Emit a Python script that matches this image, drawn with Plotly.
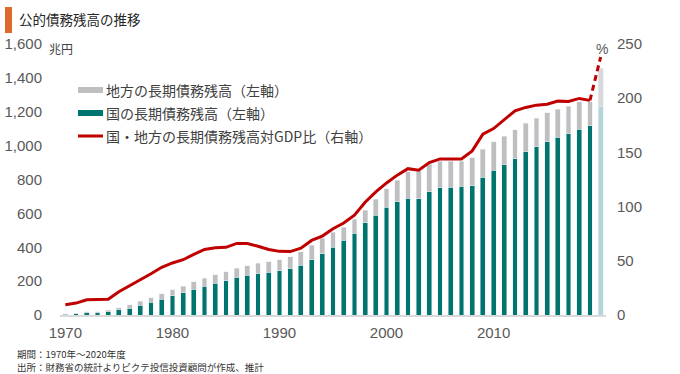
import plotly.graph_objects as go

years = list(range(1970, 2021))
national = [4, 6, 12, 14, 18, 31, 41, 57, 75, 94,
            114, 132, 152, 171, 187, 203, 222, 234, 244, 252,
            262, 274, 295, 326, 362, 401, 442, 484, 545, 590,
            637, 669, 690, 686, 727, 750, 755, 759, 763, 814,
            855, 887, 924, 964, 993, 1024, 1050, 1070, 1097, 1116,
            1231]
local = [4, 4, 6, 6, 10, 12, 20, 24, 27, 32,
         35, 39, 45, 45, 51, 53, 53, 57, 61, 63,
         63, 69, 77, 87, 90, 89, 76, 80, 74, 92,
         108, 126, 156, 164, 162, 157, 153, 149, 165, 165,
         167, 167, 169, 167, 169, 169, 165, 163, 162, 142,
         226]
gdp_ratio = [9.5, 11, 14, 14.6, 14.6, 21.4, 26.6, 32.5, 38, 44,
             48, 51, 56, 60.5, 62, 62.4, 66, 66, 63.4, 60.5,
             58.7, 58.5, 61.7, 68.8, 72.8, 79.6, 84.8, 92, 104, 113.5,
             121.8, 129, 135, 133.6, 140.7, 144, 144, 144, 151.4, 166.8,
             172, 180.4, 188.4, 191.5, 193.6, 194.5, 197.3, 197, 199.8, 198,
             238]
estimate_year = 2020
x_ticks = [1970, 1980, 1990, 2000, 2010]
left_ticks = [0, 200, 400, 600, 800, 1000, 1200, 1400, 1600]
right_ticks = [0, 50, 100, 150, 200, 250]

title = "公的債務残高の推移"
name_local = "地方の長期債務残高（左軸）"
name_nat = "国の長期債務残高（左軸）"
name_ratio = "国・地方の長期債務残高対GDP比（右軸）"
note1 = "期間：1970年～2020年度"
note2 = "出所：財務省の統計よりピクテ投信投資顧問が作成、推計"

TEAL, TEAL_L = "#00746f", "#b5d6d8"
GRAY, GRAY_L = "#bfbfbf", "#d9d9d9"
RED = "#c00000"
JP = "Noto Sans CJK JP"
NUM = "Liberation Sans"

W, H = 680, 374
L, R, T, B = 60, 606, 44, 315


def px(x):
    return (x - L) / (R - L)


def py(y):
    return (B - y) / (B - T)


nat_colors = [TEAL_L if y == estimate_year else TEAL for y in years]
loc_colors = [GRAY_L if y == estimate_year else GRAY for y in years]

fig = go.Figure()
fig.add_trace(go.Bar(x=years, y=national, name=name_nat, marker_color=nat_colors,
                     width=0.45, showlegend=False))
fig.add_trace(go.Bar(x=years, y=local, name=name_local, marker_color=loc_colors,
                     width=0.45, showlegend=False))
fig.add_trace(go.Scatter(x=years[:-1], y=gdp_ratio[:-1], name=name_ratio, mode="lines",
                         line=dict(color=RED, width=3), yaxis="y2", showlegend=False))
fig.add_trace(go.Scatter(x=years[-2:], y=gdp_ratio[-2:], name=name_ratio + "（推計）", mode="lines",
                         line=dict(color=RED, width=3, dash="6px,4px"), yaxis="y2", showlegend=False))

fig.update_layout(
    width=W, height=H,
    margin=dict(l=L, r=W - R, t=T, b=H - B, autoexpand=False),
    barmode="stack", bargap=0.5,
    plot_bgcolor="white", paper_bgcolor="white",
    font=dict(family=NUM, size=14, color="#595959"),
    xaxis=dict(range=[1969.5, 2020.5], tickvals=x_ticks, showgrid=False, zeroline=False,
               showline=True, linecolor="#d9d9d9", linewidth=2, ticks="", automargin=False,
               tickfont=dict(family=NUM, size=15, color="#595959"), ticklabelstandoff=3),
    yaxis=dict(range=[0, 1600], tickvals=left_ticks, tickformat=",d", showgrid=False,
               zeroline=False, ticks="", automargin=False,
               tickfont=dict(family=NUM, size=15, color="#595959"), ticklabelstandoff=17),
    yaxis2=dict(range=[0, 250], tickvals=right_ticks, overlaying="y", side="right",
                showgrid=False, zeroline=False, ticks="", automargin=False,
                tickfont=dict(family=NUM, size=15, color="#595959"), ticklabelstandoff=10),
)

shapes = []
annotations = []
# title marker
shapes.append(dict(type="rect", xref="paper", yref="paper", x0=px(5), x1=px(12), y0=py(33), y1=py(7),
                   fillcolor="#df6a2e", line=dict(width=0)))
annotations.append(dict(text=title, xref="paper", yref="paper", x=px(17), y=py(19), xanchor="left",
                        yanchor="middle", showarrow=False, font=dict(family=JP, size=13.5, color="#262626")))
# unit labels
annotations.append(dict(text="兆円", xref="paper", yref="paper", x=px(47), y=py(48), xanchor="left",
                        yanchor="middle", showarrow=False, font=dict(family=JP, size=12, color="#404040")))
annotations.append(dict(text="%", xref="paper", yref="paper", x=px(602), y=py(49), xanchor="center",
                        yanchor="middle", showarrow=False, font=dict(family=NUM, size=14, color="#595959")))
# custom legend
legend_items = [(name_local, GRAY, 6, 90), (name_nat, TEAL, 6, 113), (name_ratio, RED, 3, 136)]
for text, col, thick, yc in legend_items:
    shapes.append(dict(type="rect", xref="paper", yref="paper", x0=px(78), x1=px(103),
                       y0=py(yc + thick / 2), y1=py(yc - thick / 2), fillcolor=col, line=dict(width=0)))
    annotations.append(dict(text=text, xref="paper", yref="paper", x=px(104), y=py(yc), xanchor="left",
                            yanchor="middle", showarrow=False,
                            font=dict(family=JP, size=14, color="#404040")))
# notes
for text, yc in [(note1, 354), (note2, 367)]:
    annotations.append(dict(text=text, xref="paper", yref="paper", x=px(15), y=py(yc), xanchor="left",
                            yanchor="middle", showarrow=False, font=dict(family=JP, size=9.5, color="#333333")))

fig.update_layout(shapes=shapes, annotations=annotations)
fig.write_html("out.html", config={"displayModeBar": False},
               post_script="document.body.style.margin='0';document.body.style.padding='0';"
                           "document.documentElement.style.overflow='hidden';")
